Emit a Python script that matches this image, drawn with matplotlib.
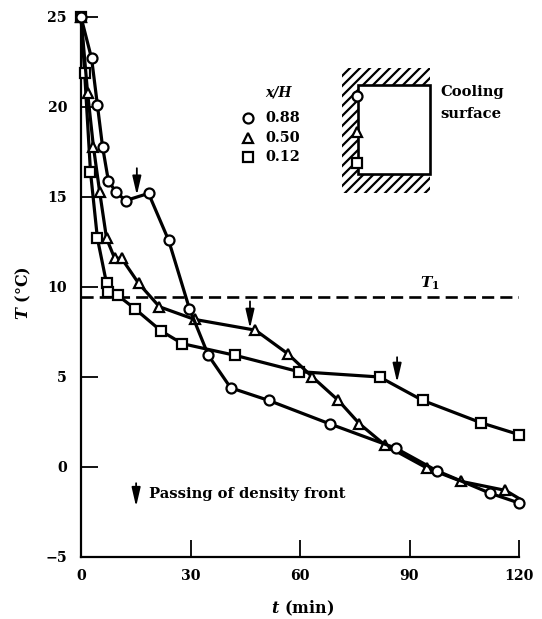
import matplotlib
matplotlib.use("Agg")
import matplotlib.pyplot as plt
from matplotlib.patches import Polygon, Rectangle
from matplotlib.lines import Line2D

FONT = "DejaVu Serif"
plt.rcParams["font.family"] = FONT
plt.rcParams["font.weight"] = "bold"
plt.rcParams["mathtext.fontset"] = "custom"
plt.rcParams["mathtext.it"] = "DejaVu Serif:italic:bold"
plt.rcParams["mathtext.rm"] = "DejaVu Serif:bold"
plt.rcParams["mathtext.bf"] = "DejaVu Serif:bold"
plt.rcParams["mathtext.default"] = "regular"

# ---- data ----
t_088 = [0, 2.9, 4.5, 5.9, 7.5, 9.5, 12.2, 18.5, 24, 29.7, 34.9, 41, 51.4, 68.1, 86.2, 97.4, 112, 120]
T_088 = [25, 22.7, 20.1, 17.8, 15.9, 15.3, 14.8, 15.2, 12.6, 8.8, 6.2, 4.4, 3.7, 2.4, 1.05, -0.2, -1.45, -2.0]
t_050 = [0, 1.8, 3.4, 5.1, 7, 9.2, 11.1, 15.8, 21.5, 31.1, 47.8, 56.6, 63.4, 70.5, 76.3, 83.4, 94.7, 104.2, 116.3, 119.6]
T_050 = [25, 20.8, 17.8, 15.3, 12.7, 11.6, 11.6, 10.2, 8.9, 8.2, 7.6, 6.3, 5.0, 3.7, 2.4, 1.2, -0.05, -0.8, -1.3, -1.7]
t_012 = [0, 1, 2.6, 4.5, 7, 7.5, 10, 14.7, 22, 27.8, 42.3, 59.6, 81.8, 93.6, 109.7, 120]
T_012 = [25, 21.9, 16.4, 12.7, 10.2, 9.7, 9.55, 8.8, 7.55, 6.85, 6.2, 5.3, 5.0, 3.7, 2.45, 1.8]
T1 = 9.45
legend_labels = ["0.88", "0.50", "0.12"]
x_ticks = [0, 30, 60, 90, 120]
y_ticks = [-5, 0, 5, 10, 15, 20, 25]
y_tick_labels = ["\u22125", "0", "5", "10", "15", "20", "25"]
front_arrows_t = [15.3, 46.3, 86.6]
front_arrows_T = [(16.6, 15.1), (9.2, 7.7), (6.1, 4.7)]

W, H = 542, 619
fig = plt.figure(figsize=(W / 100, H / 100), dpi=100, facecolor="white")
L, R, TOP, BOT = 81, 519, 17, 557
ax = fig.add_axes([L / W, 1 - BOT / H, (R - L) / W, (BOT - TOP) / H])
ax.set_xlim(0, 120)
ax.set_ylim(-5, 25)
for s in ("top", "right"):
    ax.spines[s].set_visible(False)
for s in ("left", "bottom"):
    ax.spines[s].set_linewidth(1.6)
ax.set_xticks(x_ticks)
ax.set_yticks(y_ticks)
ax.set_yticklabels(y_tick_labels)
ax.tick_params(axis="both", direction="in", length=12, width=1.3, labelsize=10.2)
ax.tick_params(axis="x", pad=9)
ax.tick_params(axis="y", pad=10)
ax.set_xlabel(r"$\mathit{t}\ \mathbf{(min)}$", fontsize=11.5, labelpad=11, x=0.505)
ax.set_ylabel(r"$\mathit{T}\ \mathbf{(\degree C)}$", fontsize=11.5, labelpad=9, y=0.489)

style = dict(color="black", lw=2.3, mfc="white", mec="black", mew=1.6, clip_on=False)
ax.plot(t_012, T_012, marker="s", ms=6.6, zorder=3, **style)
ax.plot(t_050 + [120], T_050 + [-1.75], marker="^", ms=7.4, zorder=4,
        markevery=list(range(len(t_050) - 1)), **style)
ax.plot(t_088, T_088, marker="o", ms=7.2, zorder=5, **style)
ax.plot([0, 120], [T1, T1], color="black", lw=1.9, dashes=(4.6, 2.3), zorder=2)
ax.text(95.5, 9.75, r"$\mathit{T}_{1}$", fontsize=11, ha="center", va="bottom")

arrow = dict(arrowstyle="-|>,head_length=0.95,head_width=0.22", color="black", lw=1.3,
             shrinkA=0, shrinkB=0, mutation_scale=12)
for t, (a, b) in zip(front_arrows_t, front_arrows_T):
    ax.annotate("", xy=(t, b), xytext=(t, a), arrowprops=arrow, zorder=6)
ax.annotate("", xy=(15.1, -2.2), xytext=(15.1, -0.9), arrowprops=arrow)
ax.text(18.6, -1.5, "Passing of density front", fontsize=10.6, va="center", ha="left")

# ---- overlay in pixel coordinates for legend and schematic ----
ov = fig.add_axes([0, 0, 1, 1], facecolor="none")
ov.set_xlim(0, W)
ov.set_ylim(H, 0)
ov.axis("off")

ov.text(265, 92, "x/H", fontsize=10, style="italic", va="center", ha="left")
leg_y = [118, 138, 157]
mk = dict(mfc="white", mec="black", mew=1.6, ls="none", color="black")
for y, m, lab, s in zip(leg_y, ["o", "^", "s"], legend_labels, [7.2, 7.4, 6.6]):
    ov.plot([248], [y], marker=m, ms=s, **mk)
    ov.text(265, y, lab, fontsize=10.4, va="center", ha="left")

# schematic
outer = [(342, 68), (430, 68), (430, 85), (358, 85), (358, 174), (430, 174), (430, 193), (342, 193)]
clip = Polygon(outer, closed=True, transform=ov.transData, fc="none", ec="none")
ov.add_patch(clip)
for x0 in range(330, 600, 10):
    line = Line2D([x0 - 135, x0], [193, 58], color="black", lw=1.6)
    ov.add_line(line)
    line.set_clip_path(clip)
ov.add_patch(Rectangle((358, 85), 72, 89, fc="white", ec="black", lw=1.9, zorder=3))
for y, m, s in zip([96, 132, 163], ["o", "^", "s"], [7.2, 7.4, 6.6]):
    ov.plot([357], [y], marker=m, ms=s, zorder=4, **mk)
ov.text(440, 92, "Cooling", fontsize=10.6, va="center", ha="left")
ov.text(440, 114, "surface", fontsize=10.6, va="center", ha="left")

fig.savefig("out.png", dpi=100, facecolor="white")
